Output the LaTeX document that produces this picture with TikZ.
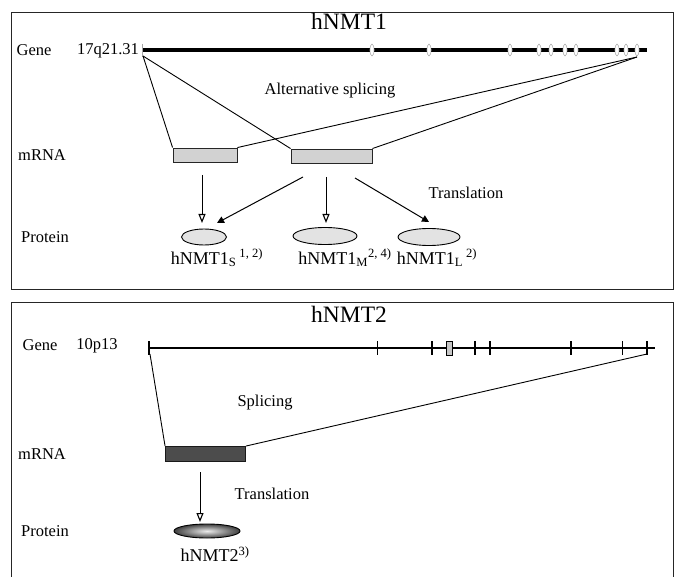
\documentclass[tikz,border=0pt]{standalone}
\usepackage{fontspec}
\setmainfont{Liberation Serif}
\usetikzlibrary{arrows.meta,shapes.geometric}
\begin{document}
\begin{tikzpicture}[x=1pt,y=-1pt,
 panel/.style={draw=black!85, line width=0.9pt},
 lbl/.style={font=\fontsize{16.5}{19}\selectfont, inner sep=0pt},
 ttl/.style={font=\fontsize{23.5}{26}\selectfont, inner sep=0pt},
 prot/.style={font=\fontsize{18}{20}\selectfont, inner sep=0pt},
 geneline/.style={line width=3.2pt},
 exonA/.style={draw=gray!60, fill=white, line width=0.6pt},
 exonthick/.style={line width=1.9pt},
 exonthin/.style={line width=0.8pt},
 mbox/.style={draw=black!85, line width=0.9pt, fill=gray!35, rectangle, inner sep=0pt},
 mboxdark/.style={draw=black!90, line width=0.9pt, fill=black!70, rectangle, inner sep=0pt},
 pell/.style={draw=black, line width=0.9pt, fill=gray!22, ellipse, inner sep=0pt},
 splice/.style={line width=0.9pt},
 oarr/.style={line width=1pt, -{Triangle[open,length=9pt,width=7pt,line width=1.1pt]}},
 farr/.style={line width=1pt, -{Triangle[length=7pt,width=7pt]}},
]
\useasboundingbox (0,0) rectangle (685,577);

% ---------------- panel 1 ----------------
\draw[panel] (11,12) rectangle (673,289);
\node[ttl] (t1) at (349,21) {hNMT1};
\node[lbl] (g1) at (34,50) {Gene};
\node[lbl] (c1) at (108,51) {17q21.31};
\draw[geneline] (143,50) -- (647,50);
\draw[gray!70, line width=0.8pt] (142,44) -- (142,57);
\foreach \x in {372,429,510,539,551,565,576,617,626,637}
  \draw[exonA] (\x,50) ellipse (2 and 6);
\coordinate (s1) at (143,56);
\coordinate (e1) at (637,57);
\node[lbl] (as) at (330,91) {Alternative splicing};

\node[lbl] (m1) at (42,155) {mRNA};
\node[mbox, minimum width=64pt, minimum height=14pt] (b1) at (205,155) {};
\node[mbox, minimum width=81pt, minimum height=14pt] (b2) at (331.5,156) {};
\draw[splice] (s1) -- (b1.north west);
\draw[splice] (s1) -- (b2.north west);
\draw[splice] (e1) -- (b1.north east);
\draw[splice] (e1) -- (b2.north east);

\node[lbl] (tr1) at (466,193) {Translation};
\node[lbl] (p1) at (45,237) {Protein};
\node[pell, minimum width=45pt, minimum height=16pt] (pS) at (204,237) {};
\node[pell, minimum width=64pt, minimum height=17pt] (pM) at (325,236) {};
\node[pell, minimum width=62pt, minimum height=17pt] (pL) at (429,237) {};

\coordinate (a1) at (202,175);
\coordinate (a1e) at (202,223);
\coordinate (a2) at (303,177);
\coordinate (a2e) at (217,223);
\coordinate (a3) at (326,177);
\coordinate (a3e) at (326,223);
\coordinate (a4) at (355,178);
\coordinate (a4e) at (429,222);
\draw[oarr] (a1) -- (a1e);
\draw[farr] (a2) -- (a2e);
\draw[oarr] (a3) -- (a3e);
\draw[farr] (a4) -- (a4e);

\node[prot] (lS) at (217,258) {hNMT1\textsubscript{S}\,\textsuperscript{1, 2)}};
\node[prot] (lM) at (345,258) {hNMT1\textsubscript{M}\textsuperscript{2, 4)}};
\node[prot] (lL) at (437,258) {hNMT1\textsubscript{L}\,\textsuperscript{2)}};

% ---------------- panel 2 ----------------
\draw[panel] (11,580) -- (11,302) -- (673,302) -- (673,580);
\node[ttl] (t2) at (349,314) {hNMT2};
\node[lbl] (g2) at (40,345) {Gene};
\node[lbl] (c2) at (97,346) {10p13};
\draw[line width=2.2pt] (149,348) -- (655,348);
\foreach \x in {149,432,475,490,571,647}
  \draw[exonthick] (\x,341) -- (\x,355);
\foreach \x in {377,622}
  \draw[exonthin] (\x,341) -- (\x,355);
\draw[line width=0.8pt, fill=gray!45] (446,341) rectangle (452,355);
\coordinate (s2) at (150,354);
\coordinate (e2) at (647,354);
\node[lbl] (sp) at (265,403) {Splicing};

\node[lbl] (m2) at (42,454) {mRNA};
\node[mboxdark, minimum width=80pt, minimum height=15pt] (b3) at (205.5,454) {};
\draw[splice] (s2) -- (b3.north west);
\draw[splice] (e2) -- (b3.north east);

\node[lbl] (tr2) at (272,494) {Translation};
\node[lbl] (p2) at (45,531) {Protein};
\shade[inner color=gray!15, outer color=black!75, draw=black, line width=0.9pt]
  (207,531) ellipse (33 and 7);
\node[ellipse, minimum width=66pt, minimum height=14pt, inner sep=0pt] (pe2) at (207,531) {};
\coordinate (a5) at (200,472);
\coordinate (a5e) at (200,522);
\draw[oarr] (a5) -- (a5e);
\node[prot] (l2) at (215,554) {hNMT2\textsuperscript{3)}};

\end{tikzpicture}
\end{document}
